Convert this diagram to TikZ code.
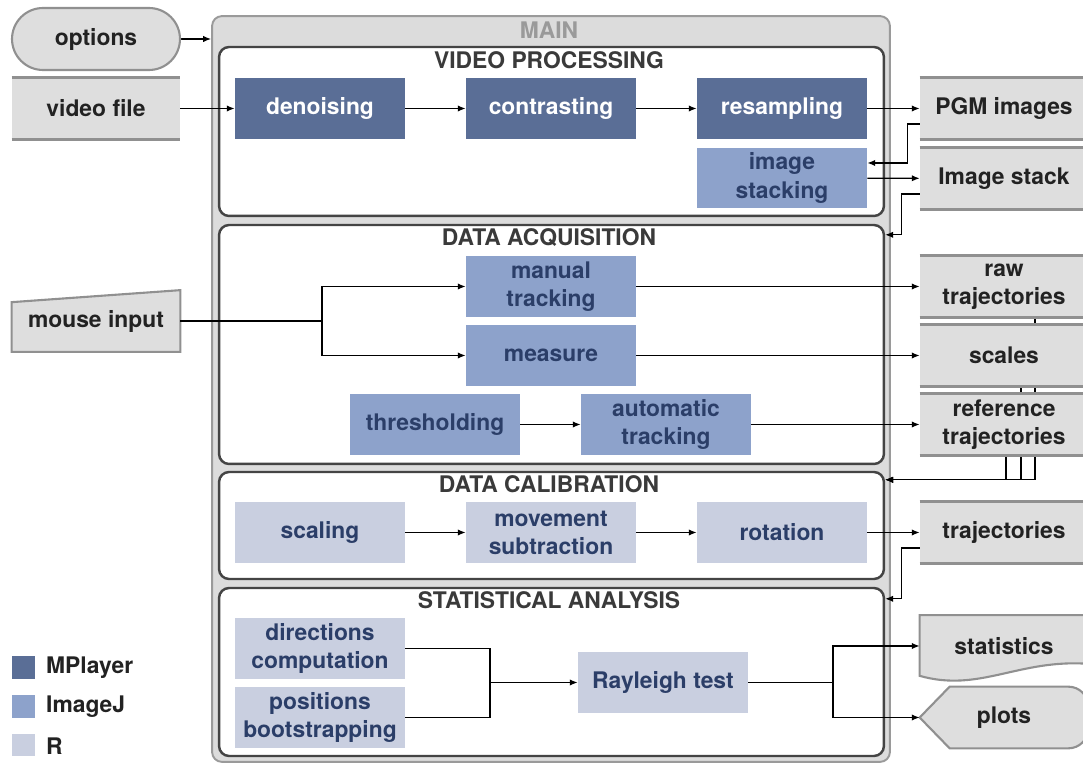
\documentclass[tikz,border=0pt]{standalone}
\usepackage{fontspec}
\setmainfont{TeX Gyre Heros}
\usetikzlibrary{positioning,calc,shapes.misc,arrows.meta}
\definecolor{mplayer}{HTML}{5A6E96}
\definecolor{imagej}{HTML}{8DA2CB}
\definecolor{rlang}{HTML}{C9CFE0}
\definecolor{tooltext}{HTML}{2B3E68}
\definecolor{datafill}{HTML}{DEDEDE}
\definecolor{databorder}{HTML}{909090}
\definecolor{datatext}{HTML}{222222}
\definecolor{mainfill}{HTML}{DCDCDC}
\definecolor{mainborder}{HTML}{9A9A9A}
\definecolor{framedark}{HTML}{444444}
\definecolor{headtext}{HTML}{3A3A3A}
\pgfdeclarelayer{frames}
\pgfdeclarelayer{wires}
\pgfsetlayers{frames,wires,main}

\tikzset{
  lbl/.style={font=\fontsize{13}{16}\selectfont\bfseries, align=center},
  toolbox/.style={lbl, minimum width=3.4cm, minimum height=1.22cm, inner sep=0pt},
  mplayerbox/.style={toolbox, fill=mplayer, text=white},
  imagejbox/.style={toolbox, fill=imagej, text=tooltext},
  rbox/.style={toolbox, fill=rlang, text=tooltext},
  datanode/.style={lbl, minimum width=3.36cm, minimum height=1.22cm, inner sep=0pt, text=datatext},
  storenode/.style={datanode, fill=datafill},
  storeline/.style={draw=databorder, line width=1.4pt},
  shapeline/.style={fill=datafill, draw=databorder, line width=1.2pt},
  stageframe/.style={draw=framedark, fill=white, line width=1.4pt, rounded corners=0.2cm, minimum width=13.3cm, inner sep=0pt},
  heading/.style={lbl, text=headtext},
  wire/.style={line width=0.7pt},
  arr/.style={wire, -{Latex[length=4.5pt,width=3.6pt]}},
  legendbox/.style={fill=#1, minimum size=0.46cm, inner sep=0pt},
}

\begin{document}
\begin{tikzpicture}[x=0.02cm,y=-0.02cm]
    \useasboundingbox (0,0) rectangle (1083,763);

    % containers
    \begin{pgfonlayer}{frames}
      \node[draw=mainborder, fill=mainfill, line width=1.1pt, rounded corners=0.2cm,
            minimum width=13.56cm, minimum height=14.92cm, inner sep=0pt] (mainbox) at (551,389) {};
      \node[stageframe, minimum height=3.38cm] (vp) at (551.5,131.5) {};
      \node[stageframe, minimum height=4.78cm] (da) at (551.5,344.5) {};
      \node[stageframe, minimum height=2.14cm] (dc) at (551.5,525.5) {};
      \node[stageframe, minimum height=3.36cm] (sa) at (551.5,672) {};
    \end{pgfonlayer}

    \node[lbl, text=mainborder] (maintitle) at (549,30) {MAIN};
    \node[heading] (vptitle) at (549,60) {VIDEO PROCESSING};
    \node[heading] (datitle) at (549,238) {DATA ACQUISITION};
    \node[heading] (dctitle) at (549,484) {DATA CALIBRATION};
    \node[heading] (satitle) at (549,600) {STATISTICAL ANALYSIS};

    % inputs
    \node[lbl, rounded rectangle, fill=datafill, draw=databorder, line width=1.2pt, text=datatext,
          minimum width=3.36cm, minimum height=1.24cm, inner sep=0pt] (options) at (96,39) {options};
    \node[storenode] (video) at (96,108.5) {video file};
    \node[datanode] (mouse) at (96,321) {mouse input};

    % video processing
    \node[mplayerbox] (denoising) at (320,108.5) {denoising};
    \node[mplayerbox] (contrasting) at (551,108.5) {contrasting};
    \node[mplayerbox] (resampling) at (782,108.5) {resampling};
    \node[imagejbox] (stacking) at (782,178) {image\\stacking};

    % data acquisition
    \node[imagejbox] (manual) at (551,286.5) {manual\\tracking};
    \node[imagejbox] (measure) at (551,355.5) {measure};
    \node[imagejbox] (thresholding) at (435,424.5) {thresholding};
    \node[imagejbox] (automatic) at (666,424.5) {automatic\\tracking};

    % data calibration
    \node[rbox] (scaling) at (320,532.5) {scaling};
    \node[rbox] (movement) at (551,532.5) {movement\\subtraction};
    \node[rbox] (rotation) at (782,532.5) {rotation};

    % statistical analysis
    \node[rbox] (directions) at (320,648.5) {directions\\computation};
    \node[rbox] (positions) at (320,717.5) {positions\\bootstrapping};
    \node[rbox] (rayleigh) at (663,682.5) {Rayleigh test};

    % outputs
    \node[storenode] (pgm) at (1004,108.5) {PGM images};
    \node[storenode] (stack) at (1004,178.5) {Image stack};
    \node[storenode] (rawtraj) at (1004,286.5) {raw\\trajectories};
    \node[storenode] (scales) at (1004,355.5) {scales};
    \node[storenode] (reftraj) at (1004,424.5) {reference\\trajectories};
    \node[storenode] (traj) at (1004,532.5) {trajectories};
    \node[datanode] (statistics) at (1004,646) {statistics};
    \node[datanode] (plots) at (1004,717.5) {plots};

    \foreach \s in {video,pgm,stack,rawtraj,scales,reftraj,traj}
      \draw[storeline] (\s.north west) -- (\s.north east) (\s.south west) -- (\s.south east);

    \begin{pgfonlayer}{frames}
      \path[shapeline] (mouse.south west) -- ($(mouse.north west)+(0,12)$) -- (mouse.north east) -- (mouse.south east) -- cycle;
      \path[shapeline] (statistics.north west) -- (statistics.north east) -- ($(statistics.south east)+(0,-13)$)
        .. controls ($(statistics.south east)+(-70,-18)$) and ($(statistics.south west)+(60,16)$) .. ($(statistics.south west)+(0,-1)$) -- cycle;
      \path[shapeline] (plots.west) -- ($(plots.north west)+(30,0)$) [rounded corners=0.4cm] -- (plots.north east)
        -- (plots.south east) [sharp corners] -- ($(plots.south west)+(30,0)$) -- cycle;
    \end{pgfonlayer}

    % legend
    \node[legendbox=mplayer] (keymp) at (23.5,667.5) {};
    \node[legendbox=imagej] (keyij) at (23.5,706.5) {};
    \node[legendbox=rlang] (keyr) at (23.5,745) {};
    \node[lbl, text=datatext, anchor=west] (keymptext) at (40,668) {MPlayer};
    \node[lbl, text=datatext, anchor=west] (keyijtext) at (40,707) {ImageJ};
    \node[lbl, text=datatext, anchor=west] (keyrtext) at (40,746) {R};

    % connectors
    \begin{pgfonlayer}{wires}
      \draw[arr] (options.east) -- (options.east -| mainbox.west);
      \draw[arr] (video) -- (denoising);
      \draw[arr] (denoising) -- (contrasting);
      \draw[arr] (contrasting) -- (resampling);
      \draw[arr] (resampling) -- (pgm);
      \draw[arr] ($(pgm.west)+(0,15.5)$) -- ++(-12,0) |- ($(stacking.east)+(0,-15)$);
      \draw[arr] (stacking) -- (stack);
      \draw[arr] ($(stack.west)+(0,15.5)$) -- ++(-18,0) |- ($(da.north east)+(0,11)$);

      \coordinate (split) at (322,321);
      \draw[wire] (mouse.east) -- (split);
      \draw[arr] (split) |- (manual);
      \draw[arr] (split) |- (measure);
      \draw[arr] (manual) -- (rawtraj);
      \draw[arr] (measure) -- (scales);
      \draw[arr] (thresholding) -- (automatic);
      \draw[arr] (automatic) -- (reftraj);
      \draw[arr] ($(rawtraj.south)+(31,0)$) |- ($(dc.north east)+(0,9)$);
      \draw[arr] ($(scales.south)+(17,0)$) |- ($(dc.north east)+(0,9)$);
      \draw[arr] ($(reftraj.south)+(2,0)$) |- ($(dc.north east)+(0,9)$);

      \draw[arr] (scaling) -- (movement);
      \draw[arr] (movement) -- (rotation);
      \draw[arr] (rotation) -- (traj);
      \draw[arr] ($(traj.west)+(0,15.5)$) -- ++(-18,0) |- ($(sa.north east)+(0,12)$);

      \coordinate (merge) at (490,682.5);
      \coordinate (fork) at (833,682.5);
      \draw[wire] (directions.east) -| (merge);
      \draw[wire] (positions.east) -| (merge);
      \draw[arr] (merge) -- (rayleigh);
      \draw[wire] (rayleigh) -- (fork);
      \draw[arr] (fork) |- (statistics.west);
      \draw[arr] (fork) |- (plots.west);
    \end{pgfonlayer}
\end{tikzpicture}
\end{document}
